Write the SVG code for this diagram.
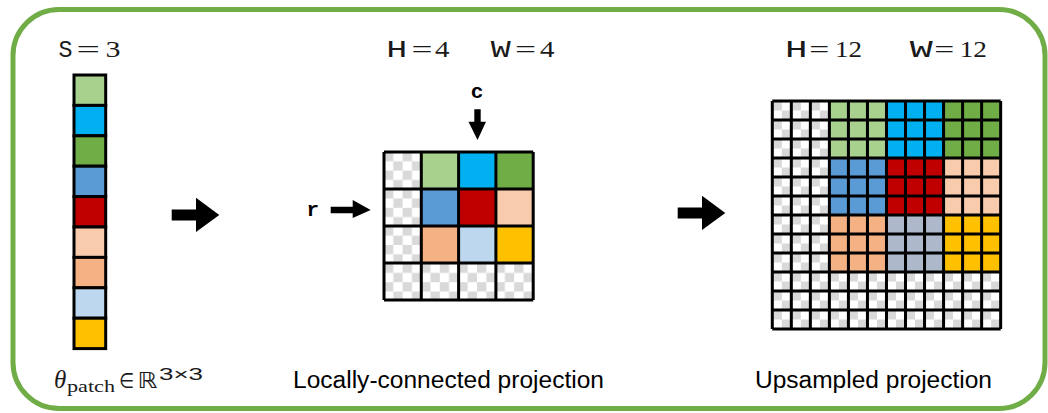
<svg xmlns="http://www.w3.org/2000/svg" width="1048" height="413" viewBox="0 0 1048 413">
<style>
.m{font-size:24px;fill:#1a1a1a}
.rm{font-family:"Liberation Serif",serif}
.tt{font-family:"Liberation Mono",monospace}
.lab{font-family:"Liberation Sans",sans-serif;font-size:23px;fill:#000}
.bt{font-family:"Liberation Mono",monospace;font-size:21px;font-weight:bold;fill:#000}
.grid{fill:none;stroke:#000;stroke-width:3}
.cell{stroke:#000;stroke-width:3}
.arrow{fill:#000}
</style>
<defs>
<pattern id="chk1" patternUnits="userSpaceOnUse" x="384" y="152" width="18.6" height="18.6">
<rect width="18.6" height="18.6" fill="#fff"/>
<rect width="9.3" height="9.3" fill="#d9d9d9"/>
<rect x="9.3" y="9.3" width="9.3" height="9.3" fill="#d9d9d9"/>
</pattern>
<pattern id="chk2" patternUnits="userSpaceOnUse" x="772.3" y="101" width="19.03" height="19">
<rect width="19.03" height="19" fill="#fff"/>
<rect width="9.5" height="9.5" fill="#d9d9d9"/>
<rect x="9.5" y="9.5" width="9.53" height="9.5" fill="#d9d9d9"/>
</pattern>
</defs>
<rect width="1048" height="413" fill="#fff"/>
<g id="frame">
<rect x="13" y="9.5" width="1032" height="399" rx="46" ry="46" fill="none" stroke="#70ad47" stroke-width="5"/>
</g>
<g id="patch-vector">
<rect class="cell" x="74" y="75" width="31.7" height="30.4" fill="#a9d18e"/>
<rect class="cell" x="74" y="105.4" width="31.7" height="30.4" fill="#00b0f0"/>
<rect class="cell" x="74" y="135.8" width="31.7" height="30.4" fill="#70ad47"/>
<rect class="cell" x="74" y="166.2" width="31.7" height="30.4" fill="#5b9bd5"/>
<rect class="cell" x="74" y="196.6" width="31.7" height="30.4" fill="#c00000"/>
<rect class="cell" x="74" y="227" width="31.7" height="30.4" fill="#f8cbad"/>
<rect class="cell" x="74" y="257.4" width="31.7" height="30.4" fill="#f4b183"/>
<rect class="cell" x="74" y="287.8" width="31.7" height="30.4" fill="#bdd7ee"/>
<rect class="cell" x="74" y="318.2" width="31.7" height="30.4" fill="#ffc000"/>
</g>
<g id="lc-grid">
<rect x="384" y="152" width="37.3" height="148" fill="url(#chk1)"/>
<rect x="421.3" y="263" width="111.9" height="37" fill="url(#chk1)"/>
<rect x="421.3" y="152" width="37.3" height="37" fill="#a9d18e"/>
<rect x="458.6" y="152" width="37.3" height="37" fill="#00b0f0"/>
<rect x="495.9" y="152" width="37.3" height="37" fill="#70ad47"/>
<rect x="421.3" y="189" width="37.3" height="37" fill="#5b9bd5"/>
<rect x="458.6" y="189" width="37.3" height="37" fill="#c00000"/>
<rect x="495.9" y="189" width="37.3" height="37" fill="#f8cbad"/>
<rect x="421.3" y="226" width="37.3" height="37" fill="#f4b183"/>
<rect x="458.6" y="226" width="37.3" height="37" fill="#bdd7ee"/>
<rect x="495.9" y="226" width="37.3" height="37" fill="#ffc000"/>
<path class="grid" d="M384 152V300M421.3 152V300M458.6 152V300M495.9 152V300M533.2 152V300M384 152H533.2M384 189H533.2M384 226H533.2M384 263H533.2M384 300H533.2"/>
</g>
<g id="up-grid">
<rect x="772.3" y="101" width="57.1" height="171" fill="url(#chk2)"/>
<rect x="772.3" y="272" width="228.4" height="57" fill="url(#chk2)"/>
<rect x="829.4" y="101" width="57.1" height="57" fill="#a9d18e"/>
<rect x="886.5" y="101" width="57.1" height="57" fill="#00b0f0"/>
<rect x="943.6" y="101" width="57.1" height="57" fill="#70ad47"/>
<rect x="829.4" y="158" width="57.1" height="57" fill="#5b9bd5"/>
<rect x="886.5" y="158" width="57.1" height="57" fill="#c00000"/>
<rect x="943.6" y="158" width="57.1" height="57" fill="#f8cbad"/>
<rect x="829.4" y="215" width="57.1" height="57" fill="#f4b183"/>
<rect x="886.5" y="215" width="57.1" height="57" fill="#adb9ca"/>
<rect x="943.6" y="215" width="57.1" height="57" fill="#ffc000"/>
<path class="grid" d="M772.3 101V329M791.33 101V329M810.36 101V329M829.39 101V329M848.42 101V329M867.45 101V329M886.48 101V329M905.51 101V329M924.54 101V329M943.57 101V329M962.6 101V329M981.63 101V329M1000.66 101V329M772.3 101H1000.66M772.3 120H1000.66M772.3 139H1000.66M772.3 158H1000.66M772.3 177H1000.66M772.3 196H1000.66M772.3 215H1000.66M772.3 234H1000.66M772.3 253H1000.66M772.3 272H1000.66M772.3 291H1000.66M772.3 310H1000.66M772.3 329H1000.66"/>
</g>
<g id="connectors">
<polygon class="arrow" points="171.7,209.5 196,209.5 196,197.7 219.3,215 196,232 196,220.5 171.7,220.5"/>
<polygon class="arrow" points="677.7,207.5 702,207.5 702,195.7 725.3,213 702,230 702,218.5 677.7,218.5"/>
<polygon class="arrow" points="474.3,109.3 480.7,109.3 480.7,121.7 486,121.7 477.5,140 468.5,121.7 474.3,121.7"/>
<polygon class="arrow" points="330.7,206.8 352.7,206.8 352.7,200 370.7,210 352.7,218 352.7,213.3 330.7,213.3"/>
</g>
<g id="labels">
<text class="m" y="56.5"><tspan class="tt" x="58.5" textLength="14" lengthAdjust="spacingAndGlyphs">S</tspan> <tspan class="rm" x="76.5" textLength="23.5" lengthAdjust="spacingAndGlyphs">=</tspan> <tspan class="rm" x="105.5" textLength="15" lengthAdjust="spacingAndGlyphs">3</tspan></text>
<text class="m" y="56.5"><tspan class="tt" x="386.3" textLength="21" lengthAdjust="spacingAndGlyphs">H</tspan> <tspan class="rm" x="411.5" textLength="21" lengthAdjust="spacingAndGlyphs">=</tspan> <tspan class="rm" x="435" textLength="14.5" lengthAdjust="spacingAndGlyphs">4</tspan>     <tspan class="tt" x="490.7" textLength="20" lengthAdjust="spacingAndGlyphs">W</tspan> <tspan class="rm" x="515" textLength="21" lengthAdjust="spacingAndGlyphs">=</tspan> <tspan class="rm" x="540" textLength="14.5" lengthAdjust="spacingAndGlyphs">4</tspan></text>
<text class="m" y="56.5"><tspan class="tt" x="785" textLength="22.5" lengthAdjust="spacingAndGlyphs">H</tspan> <tspan class="rm" x="809.3" textLength="20" lengthAdjust="spacingAndGlyphs">=</tspan> <tspan class="rm" x="835" textLength="27" lengthAdjust="spacingAndGlyphs">12</tspan>     <tspan class="tt" x="909.7" textLength="23" lengthAdjust="spacingAndGlyphs">W</tspan> <tspan class="rm" x="934.3" textLength="20" lengthAdjust="spacingAndGlyphs">=</tspan> <tspan class="rm" x="959.7" textLength="27.3" lengthAdjust="spacingAndGlyphs">12</tspan></text>
<text class="bt" x="477" y="98" text-anchor="middle">c</text>
<text class="bt" x="312.7" y="216" text-anchor="middle">r</text>
<text y="388"><tspan class="rm" x="54" font-style="italic" font-size="25" fill="#1a1a1a">θ</tspan><tspan class="rm" x="67" y="392" font-size="17" fill="#1a1a1a" textLength="48" lengthAdjust="spacingAndGlyphs">patch</tspan> <tspan x="119" y="388" font-family="DejaVu Sans,sans-serif" font-size="21" fill="#1a1a1a" textLength="15" lengthAdjust="spacingAndGlyphs">∈</tspan> <tspan x="137.5" y="388" font-family="DejaVu Sans,sans-serif" font-size="22" fill="#1a1a1a" textLength="20" lengthAdjust="spacingAndGlyphs">ℝ</tspan><tspan x="159" y="380" font-family="Liberation Sans,sans-serif" font-size="17" fill="#1a1a1a" textLength="44" lengthAdjust="spacingAndGlyphs">3×3</tspan></text>
<text class="lab" x="293" y="388" textLength="311" lengthAdjust="spacingAndGlyphs">Locally-connected projection</text>
<text class="lab" x="755" y="388" textLength="237" lengthAdjust="spacingAndGlyphs">Upsampled projection</text>
</g>
</svg>
